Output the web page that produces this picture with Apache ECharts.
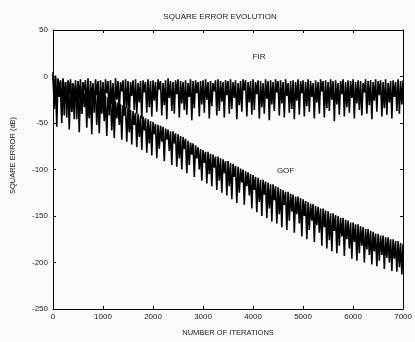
<!DOCTYPE html>
<html>
<head>
<meta charset="utf-8">
<script src="https://cdn.jsdelivr.net/npm/echarts@6/dist/echarts.min.js"></script>
<style>
html,body{margin:0;padding:0;background:#fbfbfb;}
#chart{width:415px;height:342px;}
</style>
</head>
<body>
<div id="chart"></div>
<script>
var ITER_STEP = 25;
var X_TICKS = [0,1000,2000,3000,4000,5000,6000,7000];
var Y_TICKS = [50,0,-50,-100,-150,-200,-250];

var firError = [
 5,-22,1,-36,-3,-14,-5,-41,-2,-29,-6,-44,-4,-19,-3,-38,-7,-31,-4,-46,
 -5,-24,-3,-40,-6,-15,-4,-35,-2,-43,-5,-27,-7,-39,-3,-20,-5,-45,-4,-32,
 -6,-37,-3,-18,-5,-42,-4,-30,-7,-47,-2,-25,-5,-38,-6,-16,-4,-41,-3,-34,
 -5,-44,-6,-21,-4,-36,-3,-40,-7,-28,-5,-45,-4,-17,-6,-39,-3,-33,-5,-43,
 -4,-26,-6,-38,-3,-14,-5,-42,-7,-31,-4,-46,-2,-23,-5,-37,-6,-40,-4,-19,
 -3,-44,-5,-29,-6,-36,-4,-41,-7,-22,-3,-47,-5,-34,-4,-18,-6,-43,-5,-30,
 -4,-39,-3,-25,-6,-45,-5,-32,-7,-16,-4,-42,-3,-37,-5,-27,-6,-44,-4,-20,
 -5,-40,-3,-35,-6,-23,-4,-46,-7,-31,-5,-38,-3,-15,-4,-43,-6,-28,-5,-41,
 -3,-36,-6,-19,-4,-45,-5,-33,-7,-40,-3,-24,-5,-47,-4,-30,-6,-37,-3,-17,
 -5,-42,-4,-29,-6,-44,-3,-21,-7,-39,-5,-35,-4,-46,-6,-26,-3,-41,-5,-18,
 -4,-43,-6,-32,-3,-38,-5,-22,-7,-45,-4,-28,-6,-40,-3,-16,-5,-44,-4,-34,
 -6,-37,-3,-25,-5,-48,-4,-30,-7,-41,-5,-19,-3,-43,-6,-33,-4,-39,-5,-23,
 -3,-45,-6,-29,-4,-36,-5,-42,-7,-17,-3,-40,-5,-31,-4,-46,-6,-26,-3,-38,
 -5,-20,-4,-43,-6,-34,-3,-41,-7,-28,-5,-45,-4,-22,-6,-37,-3,-40,-5,-30,
 -4
];

var gdfError = [
 2,-35,-1,-54, -2,-22,-4,-50, -3,-42,-6,-30, -5,-57,-7,-38, -8,-46,-9,-25,
 -9,-60,-11,-40, -12,-33,-13,-55, -13,-45,-15,-62, -16,-30,-17,-52, -18,-61,-19,-40,
 -20,-48,-21,-64, -22,-35,-24,-58, -25,-66,-27,-45, -28,-52,-30,-68, -31,-42,-33,-70,
 -34,-60,-36,-73, -37,-52,-39,-76, -40,-65,-42,-79, -43,-58,-45,-82, -46,-72,-48,-85,
 -49,-62,-51,-88, -52,-78,-53,-70, -54,-91,-56,-68, -57,-80,-59,-95, -59,-72,-61,-97,
 -62,-88,-64,-100, -65,-78,-67,-104, -69,-95,-71,-84, -72,-108,-74,-88, -76,-100,-78,-112,
 -79,-93,-81,-115, -81,-105,-83,-118, -84,-98,-86,-122, -86,-112,-88,-125, -89,-104,-91,-128,
 -91,-118,-93,-132, -94,-108,-96,-136, -97,-125,-99,-114, -100,-138,-102,-118, -103,-128,-105,-142,
 -106,-122,-108,-146, -109,-135,-111,-150, -111,-127,-113,-152, -114,-142,-116,-156, -116,-133,-118,-158,
 -119,-148,-121,-162, -122,-138,-124,-165, -124,-155,-126,-145, -127,-168,-129,-148, -129,-158,-131,-172,
 -132,-150,-134,-175, -135,-165,-137,-155, -137,-178,-139,-160, -140,-168,-142,-182, -142,-162,-144,-185,
 -145,-176,-147,-188, -147,-166,-149,-190, -150,-182,-152,-172, -152,-193,-154,-175, -155,-185,-157,-196,
 -157,-178,-159,-198, -159,-190,-161,-182, -162,-200,-164,-186, -164,-192,-166,-202, -167,-188,-169,-204,
 -169,-198,-171,-192, -171,-207,-173,-195, -173,-200,-175,-209, -175,-196,-177,-210, -177,-205,-179,-213,
 -180
];

var iterations = firError.map(function(_, i){ return i * ITER_STEP; });
function pairs(arr){ return arr.map(function(v,i){ return [iterations[i], v]; }); }

var FONT = 'Liberation Sans';
var TXT = '#1a1a1a';
var chart = echarts.init(document.getElementById('chart'));
function axisCommon(extra){
  var o = {
    axisLine: {show: true, onZero: false, lineStyle: {color: '#000', width: 1}},
    axisTick: {show: true, inside: true, length: 3, lineStyle: {color: '#000'}},
    splitLine: {show: false}
  };
  for (var k in extra) o[k] = extra[k];
  return o;
}
chart.setOption({
  backgroundColor: '#fbfbfb',
  animation: false,
  title: {
    text: 'SQUARE ERROR EVOLUTION',
    left: 215, top: 8, textAlign: 'center',
    textStyle: {fontFamily: FONT, fontSize: 8, fontWeight: 'normal', color: TXT}
  },
  grid: {left: 53, right: 10, top: 30, bottom: 33},
  xAxis: [axisCommon({
    type: 'value', min: X_TICKS[0], max: X_TICKS[X_TICKS.length-1], interval: 1000,
    name: 'NUMBER OF ITERATIONS', nameLocation: 'middle', nameGap: 20,
    nameTextStyle: {fontFamily: FONT, fontSize: 7.5, color: TXT},
    axisLabel: {fontFamily: FONT, fontSize: 8, color: TXT, margin: 4, formatter: function(v){ return String(v); }}
  }), axisCommon({
    type: 'value', position: 'top', min: X_TICKS[0], max: X_TICKS[X_TICKS.length-1], interval: 1000,
    axisLabel: {show: false}
  })],
  yAxis: [axisCommon({
    type: 'value', min: -250, max: 50, interval: 50,
    name: 'SQUARE ERROR (dB)', nameLocation: 'middle', nameGap: 36, nameRotate: 90,
    nameTextStyle: {fontFamily: FONT, fontSize: 7.5, color: TXT, padding: [0,0,0,28]},
    axisLabel: {fontFamily: FONT, fontSize: 8, color: TXT, margin: 5}
  }), axisCommon({
    type: 'value', position: 'right', min: -250, max: 50, interval: 50,
    axisLabel: {show: false}
  })],
  series: [{
    name: 'FIR', type: 'line', data: pairs(firError), showSymbol: false, symbol: 'none',
    lineStyle: {color: '#000', width: 1.6},
    markPoint: {
      symbol: 'circle', symbolSize: 0,
      label: {show: true, formatter: 'FIR', fontFamily: FONT, fontSize: 8, color: TXT},
      data: [{coord: [4120, 21]}]
    }
  },{
    name: 'GDF', type: 'line', data: pairs(gdfError), showSymbol: false, symbol: 'none',
    lineStyle: {color: '#000', width: 1.6},
    markPoint: {
      symbol: 'circle', symbolSize: 0,
      label: {show: true, formatter: 'GOF', fontFamily: FONT, fontSize: 8, color: TXT},
      data: [{coord: [4650, -101]}]
    }
  }]
});
</script>
</body>
</html>
